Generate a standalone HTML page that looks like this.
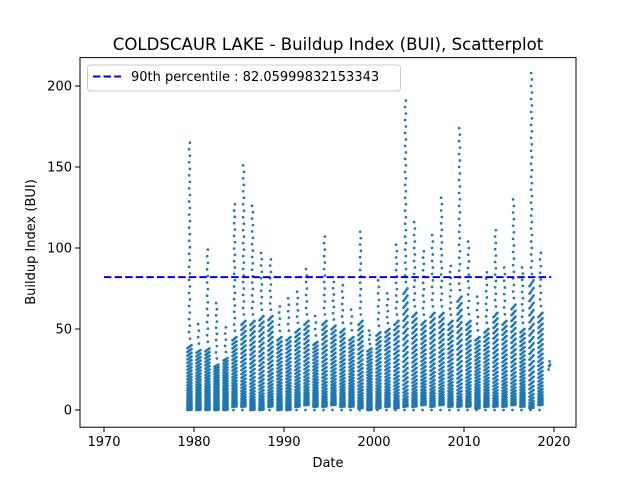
<!DOCTYPE html>
<html><head><meta charset="utf-8"><style>
html,body{margin:0;padding:0;background:#fff;}
svg{display:block;font-family:"DejaVu Sans","Liberation Sans",sans-serif;}
</style></head><body>
<svg id="chart" width="640" height="480" viewBox="0 0 640 480">
<rect x="0" y="0" width="640" height="480" fill="#fff"/>
<text x="328" y="50" font-size="16.6" text-anchor="middle">COLDSCAUR LAKE - Buildup Index (BUI), Scatterplot</text>
<g id="points"></g>
<line id="p90" stroke="#0000ff" stroke-width="2" stroke-dasharray="7.4,3.2"/>
<rect x="80" y="57.6" width="496" height="369.6" fill="none" stroke="#000" stroke-width="1"/>
<g id="xticks"></g>
<g id="yticks"></g>
<text x="328" y="467" font-size="13" text-anchor="middle">Date</text>
<text transform="translate(35,242) rotate(-90)" font-size="13" text-anchor="middle">Buildup Index (BUI)</text>
<g>
<rect x="87.5" y="65" width="313" height="26" rx="3" fill="#fff" fill-opacity="0.8" stroke="#ccc"/>
<line x1="93" y1="76.5" x2="121" y2="76.5" stroke="#0000ff" stroke-width="2" stroke-dasharray="7.4,3.2"/>
<text x="131" y="81" font-size="13">90th percentile : 82.05999832153343</text>
</g>
</svg>
<script>
const years = [1979,1980,1981,1982,1983,1984,1985,1986,1987,1988,1989,1990,1991,1992,1993,1994,1995,1996,1997,1998,1999,2000,2001,2002,2003,2004,2005,2006,2007,2008,2009,2010,2011,2012,2013,2014,2015,2016,2017,2018];
const peaks = [165,53,99,66,51,127,151,126,97,93,64,69,73,87,58,107,79,77,62,110,49,80,72,102,191,116,98,108,131,89,174,104,70,85,111,88,130,88,208,97];
const denseTops = [40,37,38,28,32,45,55,55,58,58,45,45,50,55,42,55,52,50,45,55,38,48,50,55,75,60,55,60,60,55,70,55,45,50,60,55,65,50,80,60];
const lows = [0,0,0,0,0,2,2,0,0,2,0,0,2,3,2,2,3,2,2,1,0,1,2,1,2,2,3,2,3,2,2,2,1,2,2,2,3,2,1,3];
const tail2019 = [25,27,30,28];
const p90Value = 82.05999832153343;
const xTickLabels = [1970,1980,1990,2000,2010,2020];
const yTickLabels = [0,50,100,150,200];

const NS='http://www.w3.org/2000/svg';
function xs(yr){return 104 + (yr-1970)*9;}
function ys(v){return 410 - v*1.62;}
const pts=document.getElementById('points');
function dot(x,y){
  const c=document.createElementNS(NS,'circle');
  c.setAttribute('cx',x.toFixed(2));c.setAttribute('cy',y.toFixed(2));c.setAttribute('r','1.35');
  c.setAttribute('fill','#1f77b4');
  
  
  pts.appendChild(c);
}
years.forEach((yr,i)=>{
  const cx=xs(yr+0.5);
  const nD=100;
  for(let k=0;k<nD;k++){
    const f=Math.pow(k/(nD-1),1.5);
    const v=lows[i]+(denseTops[i]-lows[i])*f;
    dot(cx+((k%4)-1.5)*1.3,ys(v));
  }
  const nS=Math.max(4,Math.round((peaks[i]-denseTops[i])/4));
  for(let k=1;k<=nS;k++){
    const f=k/nS;
    const v=denseTops[i]+(peaks[i]-denseTops[i])*f;
    dot(cx+((k%2)-0.5)*0.8,ys(v));
  }
  dot(cx-1,ys(0));
});
tail2019.forEach((v,k)=>dot(xs(2019.4)+k*0.5,ys(v)));

const l=document.getElementById('p90');
l.setAttribute('x1',xs(1970));l.setAttribute('x2',xs(2019.7));
l.setAttribute('y1',ys(p90Value));l.setAttribute('y2',ys(p90Value));

const xt=document.getElementById('xticks');
xTickLabels.forEach(t=>{
  const x=xs(t);
  const ln=document.createElementNS(NS,'line');
  ln.setAttribute('x1',x);ln.setAttribute('x2',x);ln.setAttribute('y1',427.2);ln.setAttribute('y2',432);
  ln.setAttribute('stroke','#000');
  
  
  xt.appendChild(ln);
  const tx=document.createElementNS(NS,'text');
  tx.setAttribute('x',x);tx.setAttribute('y',446);tx.setAttribute('font-size','13');tx.setAttribute('text-anchor','middle');
  tx.textContent=t;
  
  
  xt.appendChild(tx);
});
const yt=document.getElementById('yticks');
yTickLabels.forEach(t=>{
  const y=ys(t);
  const ln=document.createElementNS(NS,'line');
  ln.setAttribute('x1',75);ln.setAttribute('x2',80);ln.setAttribute('y1',y);ln.setAttribute('y2',y);
  ln.setAttribute('stroke','#000');
  
  
  yt.appendChild(ln);
  const tx=document.createElementNS(NS,'text');
  tx.setAttribute('x',72);tx.setAttribute('y',y+4.5);tx.setAttribute('font-size','13');tx.setAttribute('text-anchor','end');
  tx.textContent=t;
  
  
  yt.appendChild(tx);
});
</script>
</body></html>
